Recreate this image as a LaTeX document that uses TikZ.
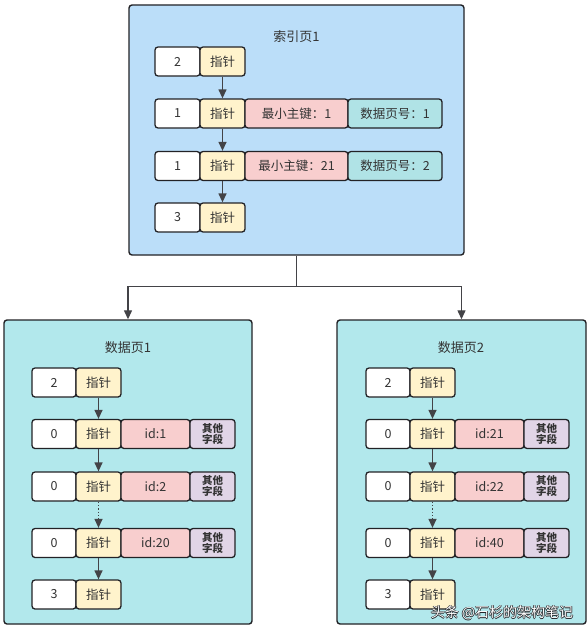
\documentclass[tikz,border=0pt]{standalone}
\usepackage{fontspec}
\setmainfont{Noto Sans CJK SC}
\usetikzlibrary{arrows.meta}
\definecolor{idxbg}{RGB}{187,222,249}
\definecolor{datbg}{RGB}{178,232,236}
\definecolor{ptrc}{RGB}{255,243,204}
\definecolor{keyc}{RGB}{248,206,206}
\definecolor{pgc}{RGB}{176,227,230}
\definecolor{othc}{RGB}{225,213,231}
\definecolor{ink}{RGB}{34,34,38}
\definecolor{txt}{RGB}{51,51,51}
\newcommand\wmOutline[1]{\leavevmode\rlap{\color{ink}\hspace{0.7pt}#1}\rlap{\color{ink}\hspace{-0.7pt}#1}\rlap{\color{ink}\raisebox{0.7pt}{#1}}\rlap{\color{ink}\raisebox{-0.7pt}{#1}}{\color{white}#1}}
\tikzset{
  page/.style={draw=ink,line width=1.4pt,rounded corners=3pt,inner sep=0pt},
  cell/.style={draw=ink,line width=1.3pt,rounded corners=3pt,minimum height=29pt,inner sep=0pt,text=txt,font=\fontsize{12.5}{12.5}\selectfont},
  other/.style={cell,fill=othc,minimum width=45pt,align=center,font=\fontsize{10.5}{11}\selectfont\bfseries},
  ttl/.style={text=txt,font=\fontsize{13}{13}\selectfont},
  link/.style={draw=ink!85,line width=1.3pt,-{Triangle[length=9pt,width=8pt]}},
  dlink/.style={link,dotted}
}
\newcommand\pgPtrRow[4]{%
  \node[cell,fill=white,minimum width=44pt] (#1w) at ({54+#2},#3) {#4};
  \node[cell,fill=ptrc,minimum width=45pt] (#1p) at ({98.5+#2},#3) {指针};}
\newcommand\pgRecRow[5]{\pgPtrRow{#1}{#2}{#3}{#4}%
  \node[cell,fill=keyc,minimum width=69pt] (#1r) at ({155.5+#2},#3) {#5};
  \node[other] (#1u) at ({212.5+#2},#3) {其他\\字段};}
\begin{document}
\begin{tikzpicture}[x=1pt,y=-1pt]
\path[fill=white] (0,0) rectangle (588,626);
\useasboundingbox (0,0) rectangle (588,626);
% index page
\node[page,fill=idxbg,minimum width=335pt,minimum height=250pt] (idx) at (296.5,130) {};
\node[ttl] (idxt) at (296.5,37) {索引页1};
\node[cell,fill=white,minimum width=45pt] (i1w) at (177.5,61.5) {2};
\node[cell,fill=ptrc,minimum width=45pt] (i1p) at (222.5,61.5) {指针};
\node[cell,fill=white,minimum width=45pt] (i2w) at (177.5,113.5) {1};
\node[cell,fill=ptrc,minimum width=45pt] (i2p) at (222.5,113.5) {指针};
\node[cell,fill=keyc,minimum width=103pt] (i2r) at (296.5,113.5) {最小主键：1};
\node[cell,fill=pgc,minimum width=94pt] (i2c) at (395,113.5) {数据页号：1};
\node[cell,fill=white,minimum width=45pt] (i3w) at (177.5,166) {1};
\node[cell,fill=ptrc,minimum width=45pt] (i3p) at (222.5,166) {指针};
\node[cell,fill=keyc,minimum width=103pt] (i3r) at (296.5,166) {最小主键：21};
\node[cell,fill=pgc,minimum width=94pt] (i3c) at (395,166) {数据页号：2};
\node[cell,fill=white,minimum width=45pt] (i4w) at (177.5,217.5) {3};
\node[cell,fill=ptrc,minimum width=45pt] (i4p) at (222.5,217.5) {指针};
\draw[link] (i1p.south) -- (i2p.north);
\draw[link] (i2p.south) -- (i3p.north);
\draw[link] (i3p.south) -- (i4p.north);
% data pages
\node[page,fill=datbg,minimum width=248pt,minimum height=304pt] (dp1) at (128,472) {};
\node[page,fill=datbg,minimum width=249pt,minimum height=304pt] (dp2) at (461.5,472) {};
\node[ttl] (dp1t) at (128,348) {数据页1};
\node[ttl] (dp2t) at (461,348) {数据页2};
% page 1 rows
\pgPtrRow{a1}{0}{382.5}{2}
\pgRecRow{a2}{0}{434}{0}{id:1}
\pgRecRow{a3}{0}{486.5}{0}{id:2}
\pgRecRow{a4}{0}{543}{0}{id:20}
\pgPtrRow{a5}{0}{594.5}{3}
% page 2 rows
\pgPtrRow{b1}{334}{382.5}{2}
\pgRecRow{b2}{334}{434}{0}{id:21}
\pgRecRow{b3}{334}{486.5}{0}{id:22}
\pgRecRow{b4}{334}{543}{0}{id:40}
\pgPtrRow{b5}{334}{594.5}{3}
\foreach \p in {a,b}{
  \draw[link] (\p1p.south) -- (\p2p.north);
  \draw[link] (\p2p.south) -- (\p3p.north);
  \draw[dlink] (\p3p.south) -- (\p4p.north);
  \draw[link] (\p4p.south) -- (\p5p.north);
}
% tree connector
\coordinate (split) at ([yshift=-31pt]idx.south);
\draw[link] (idx.south) -- (split) -| (dp1.north);
\draw[link] (split) -| (dp2.north);
% watermark
\node[font=\fontsize{14}{14}\selectfont] (wm) at (502,613) {\wmOutline{头条 @石杉的架构笔记}};
\end{tikzpicture}
\end{document}
